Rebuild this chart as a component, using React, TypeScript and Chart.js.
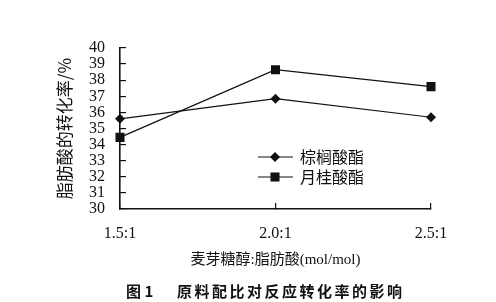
import React, { useEffect, useRef } from "react";
import { Chart, registerables } from "chart.js";

Chart.register(...registerables);

const categories = ["1.5:1", "2.0:1", "2.5:1"];
const seriesNames = ["棕榈酸酯", "月桂酸酯"];
const palmitate = [35.6, 36.85, 35.7];
const laurate = [34.45, 38.65, 37.6];
const yMin = 30;
const yMax = 40;
const yStep = 1;
const xTitle = "麦芽糖醇:脂肪酸(mol/mol)";
const yTitle = "脂肪酸的转化率/%";
const captionFig = "图 1";
const captionText = "原料配比对反应转化率的影响";

const INK = "#111111";
const SERIF = '"Liberation Serif", "Noto Sans CJK SC", serif';
const CJK = '"Noto Sans CJK SC", "Liberation Serif", sans-serif';

const legendPlugin = {
  id: "customLegend",
  afterDraw(chart: any) {
    const ctx = chart.ctx;
    const x0 = 258;
    const x1 = 293;
    const rows = [157, 177];
    ctx.save();
    chart.data.datasets.forEach((ds: any, i: number) => {
      const y = rows[i];
      ctx.strokeStyle = INK;
      ctx.lineWidth = 1.2;
      ctx.beginPath();
      ctx.moveTo(x0, y);
      ctx.lineTo(x1, y);
      ctx.stroke();
      const cx = (x0 + x1) / 2 - 0.5;
      ctx.fillStyle = INK;
      ctx.beginPath();
      if (ds.pointStyle === "rectRot") {
        const r = ds.pointRadius;
        ctx.moveTo(cx - r, y);
        ctx.lineTo(cx, y - r);
        ctx.lineTo(cx + r, y);
        ctx.lineTo(cx, y + r);
        ctx.closePath();
      } else {
        const s = ds.pointRadius * Math.SQRT1_2;
        ctx.rect(cx - s, y - s, 2 * s, 2 * s);
      }
      ctx.fill();
      ctx.font = "16px " + CJK;
      ctx.textBaseline = "middle";
      ctx.textAlign = "left";
      ctx.fillText(ds.label, 300, y);
    });
    ctx.restore();
  },
};

const captionPlugin = {
  id: "caption",
  afterDraw(chart: any) {
    const ctx = chart.ctx;
    ctx.save();
    ctx.fillStyle = INK;
    ctx.textBaseline = "middle";
    ctx.textAlign = "left";
    ctx.font = 'bold 15px "Noto Sans CJK SC", "Liberation Serif", sans-serif';
    ctx.fillText(captionFig, 126, 291);
    (ctx as any).letterSpacing = "2.5px";
    ctx.fillText(captionText, 177, 291);
    ctx.restore();
  },
};

export default function App() {
  const ref = useRef<HTMLCanvasElement | null>(null);
  useEffect(() => {
    if (!ref.current) return;
    const chart = new Chart(ref.current, {
      type: "line",
      data: {
        labels: categories,
        datasets: [
          {
            label: seriesNames[0],
            data: palmitate,
            borderColor: INK,
            backgroundColor: INK,
            borderWidth: 1.2,
            pointStyle: "rectRot",
            pointRadius: 5,
            pointBackgroundColor: INK,
            pointBorderColor: INK,
            pointBorderWidth: 0,
            tension: 0,
          },
          {
            label: seriesNames[1],
            data: laurate,
            borderColor: INK,
            backgroundColor: INK,
            borderWidth: 1.2,
            pointStyle: "rect",
            pointRadius: 6.4,
            pointBackgroundColor: INK,
            pointBorderColor: INK,
            pointBorderWidth: 0,
            tension: 0,
          },
        ],
      },
      options: {
        animation: false,
        responsive: true,
        maintainAspectRatio: false,
        layout: { padding: { left: 0, top: 48, right: 65, bottom: 0 } },
        plugins: {
          legend: { display: false },
          tooltip: { enabled: false },
        },
        scales: {
          x: {
            offset: false,
            afterFit: (s: any) => {
              s.height = 93;
            },
            border: { display: true, color: INK, width: 1.6 },
            grid: {
              drawOnChartArea: false,
              drawTicks: true,
              tickLength: -6,
              color: INK,
              lineWidth: 1.2,
            },
            ticks: {
              color: INK,
              padding: 21,
              font: { family: SERIF, size: 16 },
              maxRotation: 0,
              autoSkip: false,
            },
            title: {
              display: true,
              text: xTitle,
              color: INK,
              font: { family: SERIF, size: 15 },
              padding: { top: 0, bottom: 33 },
            },
          },
          y: {
            min: yMin,
            max: yMax,
            afterFit: (s: any) => {
              s.width = 120;
            },
            border: { display: true, color: INK, width: 1.6 },
            grid: {
              drawOnChartArea: false,
              drawTicks: true,
              tickLength: -6,
              color: INK,
              lineWidth: 1.2,
            },
            ticks: {
              stepSize: yStep,
              autoSkip: false,
              color: INK,
              padding: 21,
              font: { family: SERIF, size: 16 },
            },
            title: {
              display: true,
              text: yTitle,
              color: INK,
              font: { family: CJK, size: 17 },
              padding: { top: 54, bottom: 0 },
            },
          },
        },
      },
      plugins: [legendPlugin, captionPlugin],
    });
    return () => chart.destroy();
  }, []);
  return (
    <div
      style={{
        position: "fixed",
        left: 0,
        top: 0,
        width: 496,
        height: 302,
        background: "#fff",
      }}
    >
      <canvas ref={ref} />
    </div>
  );
}
